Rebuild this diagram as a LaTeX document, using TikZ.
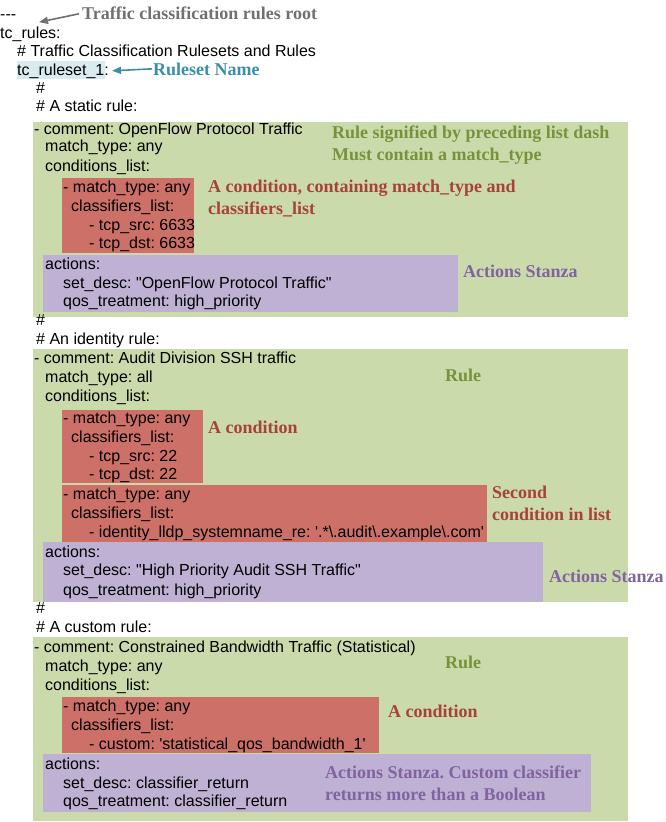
\documentclass[tikz,border=0pt]{standalone}
\usepackage{fontspec}
\newfontfamily\codefont{Liberation Sans}
\newfontfamily\notefont{Liberation Serif}
\usetikzlibrary{arrows.meta,calc}
\frenchspacing
\definecolor{rulebg}{HTML}{CBDAAA}
\definecolor{condbg}{HTML}{CD7068}
\definecolor{actbg}{HTML}{BFB1D3}
\definecolor{namebg}{HTML}{D7EBF1}
\definecolor{rulefg}{HTML}{76923C}
\definecolor{condfg}{HTML}{A8413A}
\definecolor{actfg}{HTML}{8064A2}
\definecolor{namefg}{HTML}{3A8FA8}
\definecolor{rootfg}{HTML}{707070}
\begin{document}
\begin{tikzpicture}[x=1pt,y=-1pt,
  code/.style={anchor=base west, inner sep=0pt, font=\codefont\fontsize{16}{19}\selectfont},
  note/.style={anchor=base west, inner sep=0pt, font=\notefont\bfseries\fontsize{18}{23}\selectfont},
  rulenote/.style={note, text=rulefg},
  condnote/.style={note, text=condfg},
  actnote/.style={note, text=actfg},
  pointer/.style={line width=1.6pt, -{Triangle[length=9pt,width=7pt]}}
]
\useasboundingbox (0,0) rectangle (665,822);
% backgrounds
\fill[namebg] (17,61) rectangle (105,79);
\fill[rulebg] (33,122) rectangle (628,317);
\fill[condbg] (62,178) rectangle (194,253);
\fill[actbg] (43,255) rectangle (458,312);
\fill[rulebg] (33,349) rectangle (628,602);
\fill[condbg] (62,410) rectangle (203,483);
\fill[condbg] (62,485) rectangle (487,542);
\fill[actbg] (43,542) rectangle (543,602);
\fill[rulebg] (33,637) rectangle (628,821);
\fill[condbg] (62,697) rectangle (379,753);
\fill[actbg] (43,754) rectangle (591,812);
% code lines
\node[code] (dash) at (0,19) {-{}-{}-};
\node[code] (rules) at (0,38) {tc\_rules:};
\node[code] (cmt0) at (17,56) {\# Traffic Classification Rulesets and Rules};
\node[code] (rs) at (17,75) {tc\_ruleset\_1:};
\node[code] (h1) at (36,93) {\#};
\node[code] (h2) at (36,111) {\# A static rule:};
\node[code] (a1) at (34,134) {- comment: OpenFlow Protocol Traffic};
\node[code] (a2) at (45,151) {match\_type: any};
\node[code] (a3) at (45,171) {conditions\_list:};
\node[code] (a4) at (63,192) {- match\_type: any};
\node[code] (a5) at (71,211) {classifiers\_list:};
\node[code] (a6) at (89,230) {- tcp\_src: 6633};
\node[code] (a7) at (89,248) {- tcp\_dst: 6633};
\node[code] (a8) at (45,269) {actions:};
\node[code] (a9) at (63,288) {set\_desc: \textquotedbl OpenFlow Protocol Traffic\textquotedbl};
\node[code] (a10) at (63,306) {qos\_treatment: high\_priority};
\node[code] (h3) at (36,325) {\#};
\node[code] (h4) at (36,344) {\# An identity rule:};
\node[code] (b1) at (34,363) {- comment: Audit Division SSH traffic};
\node[code] (b2) at (45,382) {match\_type: all};
\node[code] (b3) at (45,401) {conditions\_list:};
\node[code] (b4) at (63,423) {- match\_type: any};
\node[code] (b5) at (71,442) {classifiers\_list:};
\node[code] (b6) at (89,461) {- tcp\_src: 22};
\node[code] (b7) at (89,479) {- tcp\_dst: 22};
\node[code] (b8) at (63,499) {- match\_type: any};
\node[code] (b9) at (71,518) {classifiers\_list:};
\node[code] (b10) at (89,537) {- identity\_lldp\_systemname\_re: \textquotesingle.*\textbackslash.audit\textbackslash.example\textbackslash.com\textquotesingle};
\node[code] (b11) at (45,557) {actions:};
\node[code] (b12) at (63,575) {set\_desc: \textquotedbl High Priority Audit SSH Traffic\textquotedbl};
\node[code] (b13) at (63,595) {qos\_treatment: high\_priority};
\node[code] (h5) at (36,613) {\#};
\node[code] (h6) at (36,632) {\# A custom rule:};
\node[code] (c1) at (34,652) {- comment: Constrained Bandwidth Traffic (Statistical)};
\node[code] (c2) at (45,671) {match\_type: any};
\node[code] (c3) at (45,690) {conditions\_list:};
\node[code] (c4) at (63,711) {- match\_type: any};
\node[code] (c5) at (71,730) {classifiers\_list:};
\node[code] (c6) at (89,749) {- custom: \textquotesingle statistical\_qos\_bandwidth\_1\textquotesingle};
\node[code] (c7) at (45,769) {actions:};
\node[code] (c8) at (63,788) {set\_desc: classifier\_return};
\node[code] (c9) at (63,806) {qos\_treatment: classifier\_return};
% annotations
\node[note, text=rootfg] (rootlbl) at (82,19) {Traffic classification rules root};
\node[note, text=namefg] (rslbl) at (153,75) {Ruleset Name};
\node[rulenote] (r1a) at (332,138) {Rule signified by preceding list dash};
\node[rulenote] (r1b) at (332,160) {Must contain a match\_type};
\node[condnote] (k1a) at (208,192) {A condition, containing match\_type and};
\node[condnote] (k1b) at (208,214) {classifiers\_list};
\node[actnote] (s1) at (463,277) {Actions Stanza};
\node[rulenote] (r2) at (445,381) {Rule};
\node[condnote] (k2) at (208,433) {A condition};
\node[condnote] (k3a) at (492,498) {Second};
\node[condnote] (k3b) at (492,520) {condition in list};
\node[actnote] (s2) at (549,582) {Actions Stanza};
\node[rulenote] (r3) at (445,668) {Rule};
\node[condnote] (k4) at (388,717) {A condition};
\node[actnote] (s3a) at (325,778) {Actions Stanza. Custom classifier};
\node[actnote] (s3b) at (325,800) {returns more than a Boolean};
% pointers
\draw[pointer, rootfg] ($(rootlbl.west)+(-3,1)$) -- ($(rules.north west)+(39,-4)$);
\draw[pointer, namefg] ($(rslbl.west)+(-1,0)$) -- ($(rs.east)+(3,0)$);
\end{tikzpicture}
\end{document}
